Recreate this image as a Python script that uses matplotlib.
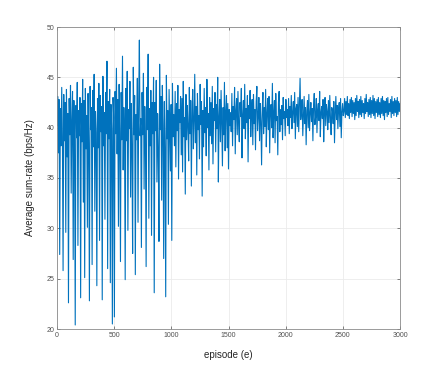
import matplotlib
matplotlib.use("Agg")
import matplotlib.pyplot as plt
import numpy as np

plt.rcParams['font.family'] = ['Liberation Sans', 'DejaVu Sans']

# Average sum-rate per episode (every ~6 episodes)
seg_0_500 = [40.2, 43.1, 37.5, 42.8, 27.4, 41.9, 38.2, 44.0, 39.1, 25.8, 43.3, 38.7, 42.5, 29.6, 43.8, 37.1,
             41.4, 22.6, 42.9, 39.3, 44.2, 33.5, 40.8, 43.6, 26.9, 42.7, 38.8, 20.4, 42.2, 39.0, 44.5, 28.3,
             41.7, 39.2, 43.0, 23.1, 42.4, 38.6, 44.8, 32.6, 42.7, 25.1, 43.9, 37.9, 41.2, 30.1, 43.4, 38.4,
             22.8, 44.1, 39.8, 42.0, 26.4, 43.7, 38.1, 45.3, 31.7, 41.6, 39.5, 24.3, 42.9, 38.0, 44.4, 28.8,
             43.2, 39.6, 42.1, 22.9, 45.1, 38.2, 41.5, 30.9, 43.5, 39.4, 46.6, 26.0, 42.6, 38.9, 43.8, 24.6,
             42.3, 39.7, 20.5, 43.0]
seg_500_1000 = [41.0, 21.2, 43.6, 39.4, 45.9, 37.4, 42.8, 30.2, 44.3, 39.6, 26.7, 43.5, 38.8, 47.1, 35.8, 42.0,
                39.5, 24.9, 43.9, 38.7, 45.6, 29.8, 41.8, 39.9, 44.6, 33.1, 42.4, 38.0, 27.5, 46.0, 39.3, 43.2,
                25.4, 41.3, 38.8, 44.9, 30.6, 42.7, 48.7, 39.2, 40.9, 28.1, 43.5, 39.3, 45.4, 33.9, 42.1, 38.6,
                26.2, 44.0, 39.8, 47.3, 31.0, 41.9, 38.2, 43.7, 29.3, 42.5, 39.4, 45.0, 23.6, 42.5, 39.7, 44.7,
                34.6, 41.4, 37.6, 28.7, 46.3, 39.8, 43.1, 32.8, 44.2, 40.2, 27.0, 42.6, 38.0, 23.2, 45.2, 38.9,
                41.7, 30.4, 43.8, 39.5, 35.7, 42.3, 28.8, 44.4, 39.1]
seg_1000_1500 = [41.3, 38.2, 43.6, 36.1, 42.4, 39.7, 44.2, 34.9, 41.8, 40.5, 43.1, 37.3, 42.9, 35.6, 44.6, 39.1,
                 41.0, 33.4, 43.3, 38.8, 42.2, 40.1, 36.7, 44.0, 39.4, 42.7, 34.2, 41.5, 43.8, 37.9, 40.6, 45.3,
                 38.5, 42.1, 35.3, 43.4, 39.8, 41.2, 36.9, 44.3, 40.3, 42.6, 33.2, 41.7, 38.1, 43.9, 39.5, 42.0,
                 37.2, 44.8, 40.0, 41.4, 35.8, 43.0, 39.2, 42.5, 38.4, 44.1, 36.4, 41.9, 40.7, 43.5, 37.6, 42.3,
                 39.9, 45.0, 34.6, 41.1, 42.8, 38.6, 43.7, 40.4, 36.2, 42.0, 39.3, 44.5, 37.7, 41.6, 43.2, 38.0,
                 42.4, 35.9, 41.8, 40.2]
seg_1500_2000 = [41.5, 39.6, 43.4, 38.2, 42.1, 40.8, 44.0, 37.4, 41.7, 42.9, 39.3, 43.6, 40.2, 38.6, 42.5, 41.1,
                 43.9, 37.0, 41.3, 42.7, 39.9, 44.3, 38.9, 41.9, 40.5, 43.2, 36.6, 42.2, 40.9, 43.7, 39.1, 41.6,
                 42.8, 38.3, 43.3, 40.4, 41.8, 37.8, 42.6, 44.1, 39.7, 41.2, 43.0, 38.7, 42.4, 40.6, 36.3, 41.9,
                 43.5, 39.4, 42.0, 40.1, 43.8, 38.1, 41.4, 42.9, 39.8, 43.1, 37.5, 41.7, 42.3, 40.0, 44.4, 39.0,
                 41.5, 42.7, 38.5, 43.4, 40.7, 41.1, 37.3, 42.5, 43.6, 39.6, 41.8, 40.3, 42.2, 38.8, 43.0, 40.9,
                 41.6, 39.2, 42.8, 41.0]
seg_2000_2500 = [41.8, 40.2, 42.9, 39.4, 42.1, 41.0, 43.2, 39.9, 41.5, 42.6, 40.5, 43.5, 38.9, 41.9, 42.3, 40.1,
                 43.0, 39.6, 42.4, 44.9, 40.8, 41.6, 42.8, 39.2, 41.3, 43.1, 40.4, 42.0, 38.3, 41.7, 42.7, 40.0,
                 43.3, 39.7, 41.4, 42.5, 40.6, 41.9, 38.7, 42.2, 43.4, 40.3, 41.1, 42.9, 39.5, 41.8, 42.4, 40.7,
                 43.6, 39.1, 41.5, 42.1, 40.9, 42.8, 38.6, 41.2, 43.0, 40.2, 42.3, 41.6, 39.8, 42.7, 40.5, 43.2,
                 41.0, 39.3, 42.0, 41.7, 40.4, 42.6, 38.5, 41.4, 43.1, 40.8, 42.2, 39.9, 41.8, 42.5, 40.1, 42.9,
                 39.0, 41.6, 42.4, 41.2]
seg_2500_3000 = [41.6, 42.9, 41.0, 42.6, 41.3, 43.1, 41.2, 42.4, 40.9, 42.8, 41.5, 43.0, 41.1, 42.7, 41.4, 42.5,
                 40.8, 42.9, 41.2, 43.2, 41.6, 42.6, 41.0, 42.8, 41.3, 43.1, 41.1, 42.7, 41.5, 42.4, 40.9, 42.9,
                 41.4, 43.3, 41.6, 42.5, 41.1, 42.8, 41.3, 43.0, 41.0, 42.7, 41.4, 43.2, 41.2, 42.9, 40.9, 42.6,
                 41.5, 42.8, 41.1, 43.0, 41.3, 42.5, 41.0, 42.9, 41.4, 43.1, 41.2, 42.7, 40.8, 42.6, 41.5, 42.9,
                 41.1, 43.0, 41.3, 42.4, 41.6, 42.8, 41.0, 43.1, 41.4, 42.6, 41.2, 42.9, 41.5, 42.7, 41.1, 43.0,
                 41.3, 42.6, 41.6, 42.4]

sum_rate = seg_0_500 + seg_500_1000 + seg_1000_1500 + seg_1500_2000 + seg_2000_2500 + seg_2500_3000
episodes = np.linspace(0, 3000, len(sum_rate))

x_ticks = [0, 500, 1000, 1500, 2000, 2500, 3000]
y_ticks = [20, 25, 30, 35, 40, 45, 50]

fig = plt.figure(figsize=(4.43, 3.70), dpi=100)
ax = fig.add_axes([57 / 443, 41 / 370, 343 / 443, 302 / 370])

ax.plot(episodes, sum_rate, color='#0072BD', linewidth=0.8)

ax.set_xlim(0, 3000)
ax.set_ylim(20, 50)
ax.set_xticks(x_ticks)
ax.set_yticks(y_ticks)
ax.grid(True, color='#ebebeb', linewidth=0.6)
ax.set_axisbelow(True)
ax.tick_params(direction='in', length=2.5, width=0.5, labelsize=5, colors='#505050',
               top=True, right=True, pad=2)
for s in ax.spines.values():
    s.set_color('#8a8a8a')
    s.set_linewidth(0.6)

ax.set_xlabel('episode (e)', fontsize=7, color='#262626', labelpad=8)
ax.set_ylabel('Average sum-rate (bps/Hz)', fontsize=7, color='#262626', labelpad=8)

fig.savefig('out.png', dpi=100)
